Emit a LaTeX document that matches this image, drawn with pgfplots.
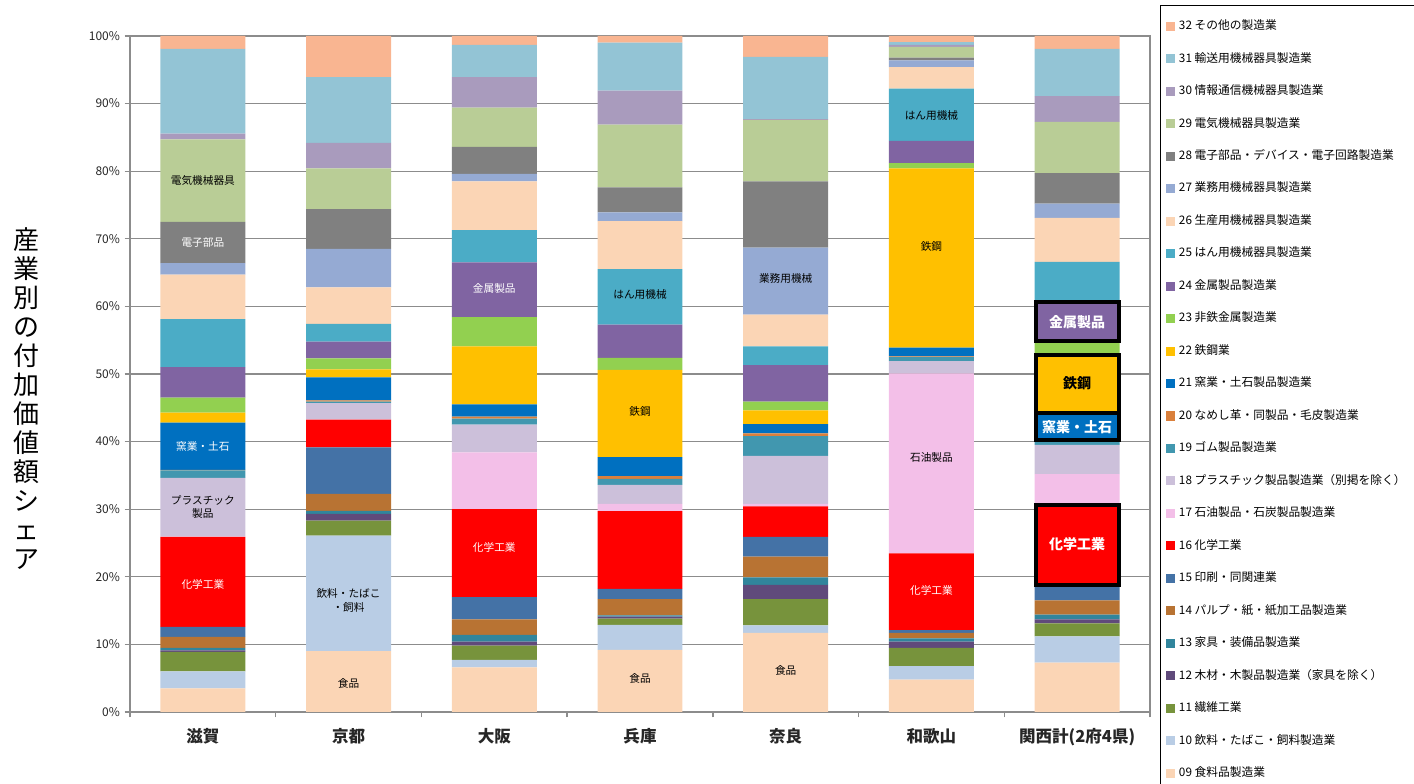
\documentclass[border=0pt]{standalone}
\usepackage{fontspec}
\setmainfont{Noto Sans CJK JP}
\usepackage{pgfplots}
\pgfplotsset{compat=1.18}
\usepackage{pgfplotstable}
\definecolor{c09}{HTML}{FBD5B5}
\definecolor{c10}{HTML}{B9CDE5}
\definecolor{c11}{HTML}{77933C}
\definecolor{c12}{HTML}{604A7B}
\definecolor{c13}{HTML}{31859C}
\definecolor{c14}{HTML}{B87333}
\definecolor{c15}{HTML}{4472A6}
\definecolor{c16}{HTML}{FF0000}
\definecolor{c17}{HTML}{F3BFE8}
\definecolor{c18}{HTML}{CCC0DA}
\definecolor{c19}{HTML}{4197AF}
\definecolor{c20}{HTML}{DA803C}
\definecolor{c21}{HTML}{0070C0}
\definecolor{c22}{HTML}{FFC000}
\definecolor{c23}{HTML}{92D050}
\definecolor{c24}{HTML}{8064A2}
\definecolor{c25}{HTML}{4BACC6}
\definecolor{c26}{HTML}{FBD5B5}
\definecolor{c27}{HTML}{95AAD3}
\definecolor{c28}{HTML}{808080}
\definecolor{c29}{HTML}{B9CD96}
\definecolor{c30}{HTML}{A99BBD}
\definecolor{c31}{HTML}{93C4D5}
\definecolor{c32}{HTML}{F9B591}
\definecolor{gridgray}{HTML}{8C8C8C}

\pgfplotstableread{
x s09 s10 s11 s12 s13 s14 s15 s16 s17 s18 s19 s20 s21 s22 s23 s24 s25 s26 s27 s28 s29 s30 s31 s32
0 3.5 2.5 2.9 0.2 0.4 1.6 1.5 13.3 0.05 8.7 1.1 0.05 7.0 1.5 2.2 4.5 7.1 6.6 1.7 6.1 12.2 0.85 12.55 1.9
1 9.0 17.1 2.2 1.0 0.45 2.5 6.9 4.1 0.05 2.4 0.2 0.2 3.4 1.2 1.6 2.5 2.6 5.4 5.7 5.9 6.0 3.8 9.7 6.1
2 6.6 1.1 2.1 0.6 1.0 2.3 3.3 13.0 8.4 4.1 0.9 0.3 1.8 8.6 4.3 8.1 4.8 7.2 1.1 4.0 5.8 4.5 4.8 1.3
3 9.2 3.7 0.9 0.3 0.2 2.4 1.5 11.5 1.1 2.8 0.9 0.4 2.8 12.9 1.8 4.9 8.2 7.1 1.3 3.7 9.3 5.0 7.1 1.0
4 11.7 1.1 3.9 2.1 1.1 3.1 2.9 4.5 0.4 7.1 2.9 0.4 1.4 2.0 1.3 5.4 2.8 4.7 9.9 9.8 9.1 0.1 9.2 3.1
5 4.8 2.0 2.7 0.9 0.5 0.8 0.4 11.35 26.65 1.8 0.6 0.1 1.3 26.5 0.8 3.3 7.7 3.2 1.0 0.4 1.6 0.3 0.4 0.9
6 7.3 3.9 1.9 0.6 0.7 2.1 2.4 11.5 4.8 4.3 0.6 0.2 3.3 8.9 2.3 5.4 6.4 6.5 2.1 4.5 7.6 3.8 7.0 1.9
}\sharetable

\pgfplotsset{
  sqlegend/.style={legend image code/.code={\fill[##1] (0pt,-3.4pt) rectangle (6.8pt,3.4pt);}},
}
\newcommand{\lab}{\fontsize{8}{10}\selectfont}
\newcommand{\blab}{\bfseries\fontsize{10.5}{12}\selectfont}

\begin{document}
\begin{tikzpicture}
\useasboundingbox (0,0) rectangle (1060.5pt,588pt);
\begin{axis}[
  at={(97.5pt,54pt)}, anchor=south west,
  scale only axis, width=765pt, height=507pt,
  ybar stacked, bar width=0.583,
  sqlegend,
  xmin=-0.5, xmax=6.5, ymin=0, ymax=100,
  xtick={-0.5,0.5,1.5,2.5,3.5,4.5,5.5,6.5}, xticklabels={},
  extra x ticks={0,1,2,3,4,5,6},
  extra x tick labels={滋賀,京都,大阪,兵庫,奈良,和歌山,関西計(2府4県)},
  extra x tick style={major tick length=0pt, grid=none,
     xticklabel style={font=\bfseries\fontsize{12.4}{13}\selectfont, text=black!85, yshift=-9pt}},
  ytick={0,10,...,100},
  yticklabel={\pgfmathparse{int(round(\tick))}\pgfmathresult\%},
  yticklabel style={font=\fontsize{9}{10}\selectfont, text=black!85},
  tick align=outside, tick pos=left, major tick length=4pt,
  tick style={draw=gridgray, line width=1pt},
  ymajorgrids, grid style={draw=gridgray, line width=0.8pt},
  axis line style={draw=gridgray, line width=1.4pt},
  reverse legend,
  legend cell align=left,
  legend style={at={(1.0098,1.0459)}, anchor=north west, draw=black, line width=0.9pt,
     inner xsep=4pt, inner ysep=11pt, row sep=15.36pt,
     font=\fontsize{8.8}{10}\selectfont,
     nodes={inner xsep=3pt, inner ysep=0pt, text height=7pt, text depth=2pt}},
]
\addplot[fill=c09,draw=none] table[x=x,y=s09]{\sharetable}; \addlegendentry{09 食料品製造業}
\addplot[fill=c10,draw=none] table[x=x,y=s10]{\sharetable}; \addlegendentry{10 飲料・たばこ・飼料製造業}
\addplot[fill=c11,draw=none] table[x=x,y=s11]{\sharetable}; \addlegendentry{11 繊維工業}
\addplot[fill=c12,draw=none] table[x=x,y=s12]{\sharetable}; \addlegendentry{12 木材・木製品製造業（家具を除く）}
\addplot[fill=c13,draw=none] table[x=x,y=s13]{\sharetable}; \addlegendentry{13 家具・装備品製造業}
\addplot[fill=c14,draw=none] table[x=x,y=s14]{\sharetable}; \addlegendentry{14 パルプ・紙・紙加工品製造業}
\addplot[fill=c15,draw=none] table[x=x,y=s15]{\sharetable}; \addlegendentry{15 印刷・同関連業}
\addplot[fill=c16,draw=none] table[x=x,y=s16]{\sharetable}; \addlegendentry{16 化学工業}
\addplot[fill=c17,draw=none] table[x=x,y=s17]{\sharetable}; \addlegendentry{17 石油製品・石炭製品製造業}
\addplot[fill=c18,draw=none] table[x=x,y=s18]{\sharetable}; \addlegendentry{18 プラスチック製品製造業（別掲を除く）}
\addplot[fill=c19,draw=none] table[x=x,y=s19]{\sharetable}; \addlegendentry{19 ゴム製品製造業}
\addplot[fill=c20,draw=none] table[x=x,y=s20]{\sharetable}; \addlegendentry{20 なめし革・同製品・毛皮製造業}
\addplot[fill=c21,draw=none] table[x=x,y=s21]{\sharetable}; \addlegendentry{21 窯業・土石製品製造業}
\addplot[fill=c22,draw=none] table[x=x,y=s22]{\sharetable}; \addlegendentry{22 鉄鋼業}
\addplot[fill=c23,draw=none] table[x=x,y=s23]{\sharetable}; \addlegendentry{23 非鉄金属製造業}
\addplot[fill=c24,draw=none] table[x=x,y=s24]{\sharetable}; \addlegendentry{24 金属製品製造業}
\addplot[fill=c25,draw=none] table[x=x,y=s25]{\sharetable}; \addlegendentry{25 はん用機械器具製造業}
\addplot[fill=c26,draw=none] table[x=x,y=s26]{\sharetable}; \addlegendentry{26 生産用機械器具製造業}
\addplot[fill=c27,draw=none] table[x=x,y=s27]{\sharetable}; \addlegendentry{27 業務用機械器具製造業}
\addplot[fill=c28,draw=none] table[x=x,y=s28]{\sharetable}; \addlegendentry{28 電子部品・デバイス・電子回路製造業}
\addplot[fill=c29,draw=none] table[x=x,y=s29]{\sharetable}; \addlegendentry{29 電気機械器具製造業}
\addplot[fill=c30,draw=none] table[x=x,y=s30]{\sharetable}; \addlegendentry{30 情報通信機械器具製造業}
\addplot[fill=c31,draw=none] table[x=x,y=s31]{\sharetable}; \addlegendentry{31 輸送用機械器具製造業}
\addplot[fill=c32,draw=none] table[x=x,y=s32]{\sharetable}; \addlegendentry{32 その他の製造業}

\coordinate (a01) at (axis cs:0,78.6);
\coordinate (a02) at (axis cs:0,69.5);
\coordinate (a03) at (axis cs:0,39.3);
\coordinate (a04) at (axis cs:0,30.3);
\coordinate (a05) at (axis cs:0,18.8);
\coordinate (a06) at (axis cs:1,16.5);
\coordinate (a07) at (axis cs:1,4.2);
\coordinate (a08) at (axis cs:2,62.7);
\coordinate (a09) at (axis cs:2,24.3);
\coordinate (a10) at (axis cs:3,61.7);
\coordinate (a11) at (axis cs:3,44.5);
\coordinate (a12) at (axis cs:3,5.0);
\coordinate (a13) at (axis cs:4,64.2);
\coordinate (a14) at (axis cs:4,6.2);
\coordinate (a15) at (axis cs:5,88.3);
\coordinate (a16) at (axis cs:5,68.8);
\coordinate (a17) at (axis cs:5,37.6);
\coordinate (a18) at (axis cs:5,18.0);
\coordinate (k1a) at (axis cs:5.715,60.6);  \coordinate (k1b) at (axis cs:6.29,54.9);
\coordinate (k2a) at (axis cs:5.715,52.8);  \coordinate (k2b) at (axis cs:6.29,44.3);
\coordinate (k3a) at (axis cs:5.715,44.3);  \coordinate (k3b) at (axis cs:6.29,40.2);
\coordinate (k4a) at (axis cs:5.715,30.6);  \coordinate (k4b) at (axis cs:6.29,18.8);
\coordinate (t1) at (axis cs:6,57.7);
\coordinate (t2) at (axis cs:6,48.6);
\coordinate (t3) at (axis cs:6,42.2);
\coordinate (t4) at (axis cs:6,24.9);
\end{axis}
\node[font=\lab, inner sep=0pt, text=black] at (a01) {電気機械器具};
\node[font=\lab, inner sep=0pt, text=white] at (a02) {電子部品};
\node[font=\lab, inner sep=0pt, text=white] at (a03) {窯業・土石};
\node[font=\lab, inner sep=0pt, text=black, align=center] at (a04) {プラスチック\\製品};
\node[font=\lab, inner sep=0pt, text=white] at (a05) {化学工業};
\node[font=\lab, inner sep=0pt, text=black, align=center] at (a06) {飲料・たばこ\\・飼料};
\node[font=\lab, inner sep=0pt, text=black] at (a07) {食品};
\node[font=\lab, inner sep=0pt, text=white] at (a08) {金属製品};
\node[font=\lab, inner sep=0pt, text=white] at (a09) {化学工業};
\node[font=\lab, inner sep=0pt, text=black] at (a10) {はん用機械};
\node[font=\lab, inner sep=0pt, text=black] at (a11) {鉄鋼};
\node[font=\lab, inner sep=0pt, text=black] at (a12) {食品};
\node[font=\lab, inner sep=0pt, text=black] at (a13) {業務用機械};
\node[font=\lab, inner sep=0pt, text=black] at (a14) {食品};
\node[font=\lab, inner sep=0pt, text=black] at (a15) {はん用機械};
\node[font=\lab, inner sep=0pt, text=black] at (a16) {鉄鋼};
\node[font=\lab, inner sep=0pt, text=black] at (a17) {石油製品};
\node[font=\lab, inner sep=0pt, text=white] at (a18) {化学工業};
\draw[line width=3pt, black, fill=c24] (k1a) rectangle (k1b);
\draw[line width=3pt, black, fill=c22] (k2a) rectangle (k2b);
\draw[line width=3pt, black, fill=c21] (k3a) rectangle (k3b);
\draw[line width=3pt, black, fill=c16] (k4a) rectangle (k4b);
\node[font=\blab, inner sep=0pt, text=white] at (t1) {金属製品};
\node[font=\blab, inner sep=0pt, text=black] at (t2) {鉄鋼};
\node[font=\blab, inner sep=0pt, text=white] at (t3) {窯業・土石};
\node[font=\blab, inner sep=0pt, text=white] at (t4) {化学工業};
\node[align=center, font=\fontsize{19.5}{21.75}\selectfont, inner sep=0pt]
  at (19.5pt,288.75pt) {産\\業\\別\\の\\付\\加\\価\\値\\額\\シ\\ェ\\ア};
\end{tikzpicture}
\end{document}
